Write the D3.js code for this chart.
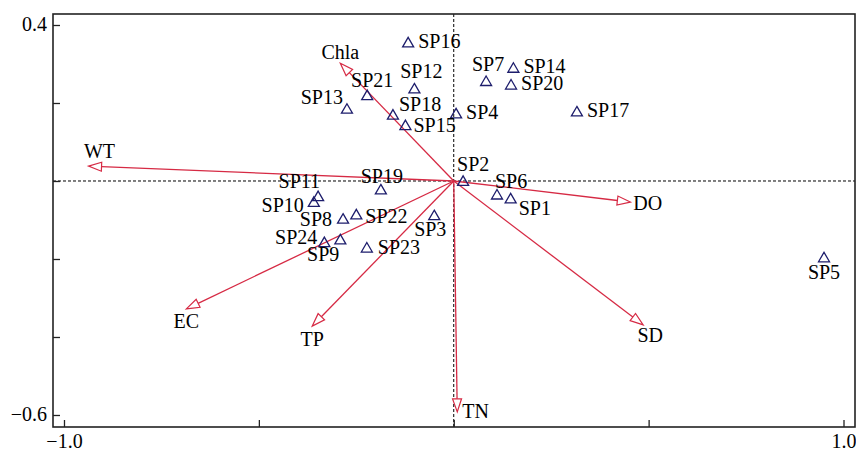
<!DOCTYPE html>
<html>
<head>
<meta charset="utf-8">
<script src="https://cdn.jsdelivr.net/npm/d3@7"></script>
<style>
  html, body { margin: 0; padding: 0; background: #fff; }
  svg { display: block; }
  text { font-family: "Liberation Serif", "Times New Roman", serif; }
</style>
</head>
<body>
<svg id="chart" width="856" height="451"></svg>
<script>
// Sampling sites (RDA site scores, axis 1 / axis 2)
const siteNames = ["SP1","SP2","SP3","SP4","SP5","SP6","SP7","SP8","SP9","SP10","SP11","SP12",
                   "SP13","SP14","SP15","SP16","SP17","SP18","SP19","SP20","SP21","SP22","SP23","SP24"];
const siteX = [0.146, 0.024, -0.050, 0.006, 0.950, 0.111, 0.083, -0.284, -0.291, -0.359, -0.348, -0.101,
               -0.274, 0.153, -0.124, -0.117, 0.316, -0.156, -0.187, 0.147, -0.222, -0.250, -0.223, -0.332];
const siteY = [-0.044, 0.001, -0.087, 0.174, -0.195, -0.034, 0.257, -0.096, -0.149, -0.053, -0.038, 0.238,
               0.186, 0.291, 0.144, 0.356, 0.179, 0.171, -0.021, 0.248, 0.221, -0.085, -0.170, -0.156];

// Environmental variables (biplot arrow endpoints)
const envNames = ["WT", "Chla", "DO", "SD", "TN", "EC", "TP"];
const envX = [-0.937, -0.291, 0.453, 0.486, 0.009, -0.686, -0.363];
const envY = [0.038, 0.302, -0.054, -0.369, -0.592, -0.328, -0.372];

// Axis ticks
const xTicks = [-1.0, -0.5, 0, 0.5, 1.0];
const xTickLabels = ["\u22121.0", "", "", "", "1.0"];
const yTicks = [0.4, 0.2, 0, -0.2, -0.4, -0.6];
const yTickLabels = ["0.4", "", "", "", "", "\u22120.6"];

// Label placement (layout only): [anchor, dx, dy] from the mark
const siteLabelPlace = {
  SP1: ["start", 8, 17], SP2: ["start", -6, -10], SP3: ["middle", -4, 21], SP4: ["start", 10, 6],
  SP5: ["middle", 0, 22], SP6: ["start", -2, -6], SP7: ["middle", 2, -10], SP8: ["end", -11, 8],
  SP9: ["end", -1, 22], SP10: ["end", -10, 10], SP11: ["end", 2, -8], SP12: ["middle", 7, -10],
  SP13: ["end", -4, -4], SP14: ["start", 10, 5], SP15: ["start", 8, 7], SP16: ["start", 10, 6],
  SP17: ["start", 10, 6], SP18: ["start", 6, -3], SP19: ["middle", 1, -6], SP20: ["start", 10, 6],
  SP21: ["middle", 5, -8], SP22: ["start", 9, 9], SP23: ["start", 11, 7], SP24: ["end", -7, 2]
};
const envLabelPlace = {
  WT: ["middle", 11, -8], Chla: ["middle", 0, -4], DO: ["start", 3, 8], SD: ["middle", 7, 17],
  TN: ["start", 5, 6], EC: ["middle", 0, 19], TP: ["middle", 0, 20]
};

const svg = d3.select("#chart");
const plot = { left: 53, right: 855, top: 14, bottom: 427 };

const x = d3.scaleLinear().domain([-1.0282, 1.0295]).range([plot.left, plot.right]);
const y = d3.scaleLinear().domain([0.4282, -0.6308]).range([plot.top, plot.bottom]);

const arrowColor = "#d62a44";
const siteColor = "#1d1d6c";
const fontSize = 20;

// Zero reference lines
svg.append("line")
  .attr("x1", plot.left).attr("x2", plot.right)
  .attr("y1", y(0)).attr("y2", y(0))
  .attr("stroke", "#000").attr("stroke-width", 1).attr("stroke-dasharray", "3,2");
svg.append("line")
  .attr("x1", x(0)).attr("x2", x(0))
  .attr("y1", plot.top).attr("y2", plot.bottom)
  .attr("stroke", "#000").attr("stroke-width", 1).attr("stroke-dasharray", "3,2");

// Axes with inward ticks
const xAxis = d3.axisBottom(x).tickValues(xTicks).tickSize(-7).tickPadding(14)
  .tickFormat((d, i) => xTickLabels[i]);
const yAxis = d3.axisLeft(y).tickValues(yTicks).tickSize(-7).tickPadding(6)
  .tickFormat((d, i) => yTickLabels[i]);

const gx = svg.append("g").attr("transform", `translate(0,${plot.bottom})`).call(xAxis);
const gy = svg.append("g").attr("transform", `translate(${plot.left},0)`).call(yAxis);
[gx, gy].forEach(g => {
  g.select(".domain").remove();
  g.selectAll(".tick line").attr("stroke", "#222").attr("stroke-width", 1.3);
  g.selectAll(".tick text").attr("fill", "#000")
    .style("font-family", "'Liberation Serif', serif").style("font-size", fontSize + "px");
});
gx.selectAll(".tick text").attr("dy", "0.71em").attr("y", 7);
gy.selectAll(".tick text").attr("dy", "0.3em");

// Frame
svg.append("rect")
  .attr("x", plot.left).attr("y", plot.top)
  .attr("width", plot.right - plot.left).attr("height", plot.bottom - plot.top)
  .attr("fill", "none").attr("stroke", "#222").attr("stroke-width", 1.6);

// Environmental arrows
const envData = envNames.map((n, i) => ({ name: n, x: envX[i], y: envY[i] }));
const headLen = 13, headHalf = 4.5;
const gEnv = svg.append("g");
envData.forEach(d => {
  const x0 = x(0), y0 = y(0), x1 = x(d.x), y1 = y(d.y);
  const ang = Math.atan2(y1 - y0, x1 - x0);
  const bx = x1 - headLen * Math.cos(ang), by = y1 - headLen * Math.sin(ang);
  const px = -Math.sin(ang) * headHalf, py = Math.cos(ang) * headHalf;
  gEnv.append("line")
    .attr("x1", x0).attr("y1", y0).attr("x2", bx).attr("y2", by)
    .attr("stroke", arrowColor).attr("stroke-width", 1.3);
  gEnv.append("path")
    .attr("d", `M${x1},${y1}L${bx + px},${by + py}L${bx - px},${by - py}Z`)
    .attr("fill", "#fff").attr("stroke", arrowColor).attr("stroke-width", 1.2)
    .attr("stroke-linejoin", "miter");
  const p = envLabelPlace[d.name];
  gEnv.append("text")
    .attr("x", x1 + p[1]).attr("y", y1 + p[2])
    .attr("text-anchor", p[0])
    .attr("font-size", fontSize).attr("fill", "#000")
    .text(d.name);
});

// Sites: open triangles with labels
const siteData = siteNames.map((n, i) => ({ name: n, x: siteX[i], y: siteY[i] }));
const triW = 11, triH = 9.5;
const gSites = svg.append("g");
gSites.selectAll("path.site").data(siteData).join("path")
  .attr("class", "site")
  .attr("d", d => {
    const cx = x(d.x), cy = y(d.y);
    return `M${cx},${cy - triH / 2}L${cx + triW / 2},${cy + triH / 2}L${cx - triW / 2},${cy + triH / 2}Z`;
  })
  .attr("fill", "none").attr("stroke", siteColor).attr("stroke-width", 1.3);
gSites.selectAll("text.site").data(siteData).join("text")
  .attr("class", "site")
  .attr("x", d => x(d.x) + siteLabelPlace[d.name][1])
  .attr("y", d => y(d.y) + siteLabelPlace[d.name][2])
  .attr("text-anchor", d => siteLabelPlace[d.name][0])
  .attr("font-size", fontSize).attr("fill", "#000")
  .text(d => d.name);
</script>
</body>
</html>
